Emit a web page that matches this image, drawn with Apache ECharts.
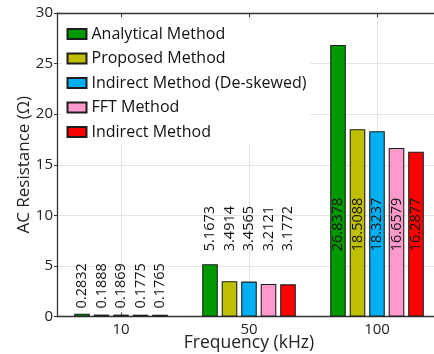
<!DOCTYPE html>
<html>
<head>
<meta charset="utf-8">
<script src="https://cdn.jsdelivr.net/npm/echarts@6/dist/echarts.min.js"></script>
<style>
html,body{margin:0;padding:0;background:#fff;}
#c{width:434px;height:354px;}
</style>
</head>
<body>
<div id="c"></div>
<script>
const categories = ['10', '50', '100'];
const seriesNames = ['Analytical Method', 'Proposed Method', 'Indirect Method (De-skewed)', 'FFT Method', 'Indirect Method'];
const analytical = [0.2832, 5.1673, 26.8378];
const proposed = [0.1888, 3.4914, 18.5088];
const indirectDeskewed = [0.1869, 3.4565, 18.3237];
const fftMethod = [0.1775, 3.2121, 16.6579];
const indirect = [0.1765, 3.1772, 16.2877];
const labelBase = [0.8, 6.45, 6.45];
const yTicks = [0, 5, 10, 15, 20, 25, 30];

const allValues = [analytical, proposed, indirectDeskewed, fftMethod, indirect];
const colors = ['#009900', '#bfbf00', '#00b0f0', '#ff99cc', '#ff0000'];
const FONT = '"Open Sans", "DejaVu Sans", sans-serif';

const chart = echarts.init(document.getElementById('c'), null, {renderer: 'canvas'});

const series = [];
allValues.forEach((vals, i) => {
  series.push({
    name: seriesNames[i],
    type: 'bar',
    xAxisIndex: 0,
    yAxisIndex: 0,
    data: vals,
    barWidth: 15.6,
    barGap: '25%',
    itemStyle: {color: colors[i], borderColor: '#1e1e1e', borderWidth: 1.1},
    z: 3
  });
});
allValues.forEach((vals, i) => {
  series.push({
    name: seriesNames[i] + ' label',
    type: 'bar',
    xAxisIndex: 1,
    yAxisIndex: 0,
    data: labelBase,
    barWidth: 15.6,
    barGap: '25%',
    itemStyle: {color: 'rgba(0,0,0,0)'},
    silent: true,
    z: 5,
    label: {
      show: true,
      position: 'top',
      distance: 0,
      rotate: 90,
      align: 'left',
      verticalAlign: 'middle',
      fontFamily: FONT,
      fontSize: 14.5,
      color: '#111',
      formatter: p => vals[p.dataIndex].toFixed(4)
    }
  });
});

chart.setOption({
  animation: false,
  backgroundColor: '#fff',
  grid: {left: 57, right: -7, top: 13, bottom: 37.5, containLabel: false, outerBoundsMode: 'none'},
  legend: {
    data: seriesNames,
    orient: 'vertical',
    left: 62.5,
    top: 22,
    padding: [4, 4, 4, 4],
    backgroundColor: '#fff',
    itemWidth: 19,
    itemHeight: 10,
    itemGap: 8.5,
    icon: 'rect',
    textStyle: {fontFamily: FONT, fontSize: 16, color: '#111', lineHeight: 16},
    z: 10
  },
  xAxis: [
    {
      type: 'category',
      data: categories,
      position: 'bottom',
      name: 'Frequency (kHz)',
      nameLocation: 'middle',
      nameGap: 18,
      nameMoveOverlap: false,
      nameTextStyle: {fontFamily: FONT, fontSize: 17.5, color: '#222', verticalAlign: 'top'},
      axisLine: {lineStyle: {color: '#333', width: 1.3}},
      axisTick: {show: true, inside: true, alignWithLabel: true, length: 4, lineStyle: {color: '#333'}},
      axisLabel: {fontFamily: FONT, fontSize: 15, color: '#222', margin: 6},
      splitLine: {show: false}
    },
    {
      type: 'category',
      data: categories,
      position: 'top',
      axisLine: {lineStyle: {color: '#333', width: 1.3}},
      axisTick: {show: true, inside: true, alignWithLabel: true, length: 4, lineStyle: {color: '#333'}},
      axisLabel: {show: false},
      splitLine: {show: false}
    },
    {
      type: 'value',
      min: 0, max: 6, interval: 1,
      show: true,
      position: 'bottom',
      axisLine: {show: false},
      axisTick: {show: false},
      axisLabel: {show: false},
      splitLine: {show: true, lineStyle: {color: ['rgba(0,0,0,0)', '#e4e4e4'], width: 1}}
    }
  ],
  yAxis: [{
    type: 'value',
    min: yTicks[0],
    max: yTicks[yTicks.length - 1],
    interval: yTicks[1] - yTicks[0],
    name: 'AC Resistance (Ω)',
    nameLocation: 'middle',
    nameGap: 24,
    nameMoveOverlap: false,
    nameTextStyle: {fontFamily: FONT, fontSize: 17, color: '#222'},
    axisLine: {show: true, lineStyle: {color: '#333', width: 1.3}},
    axisTick: {show: true, inside: false, length: 3, lineStyle: {color: '#333'}},
    axisLabel: {fontFamily: FONT, fontSize: 15, color: '#222', margin: 4},
    splitLine: {show: true, lineStyle: {color: '#e4e4e4', width: 1}}
  }],
  series: series
});
</script>
</body>
</html>
